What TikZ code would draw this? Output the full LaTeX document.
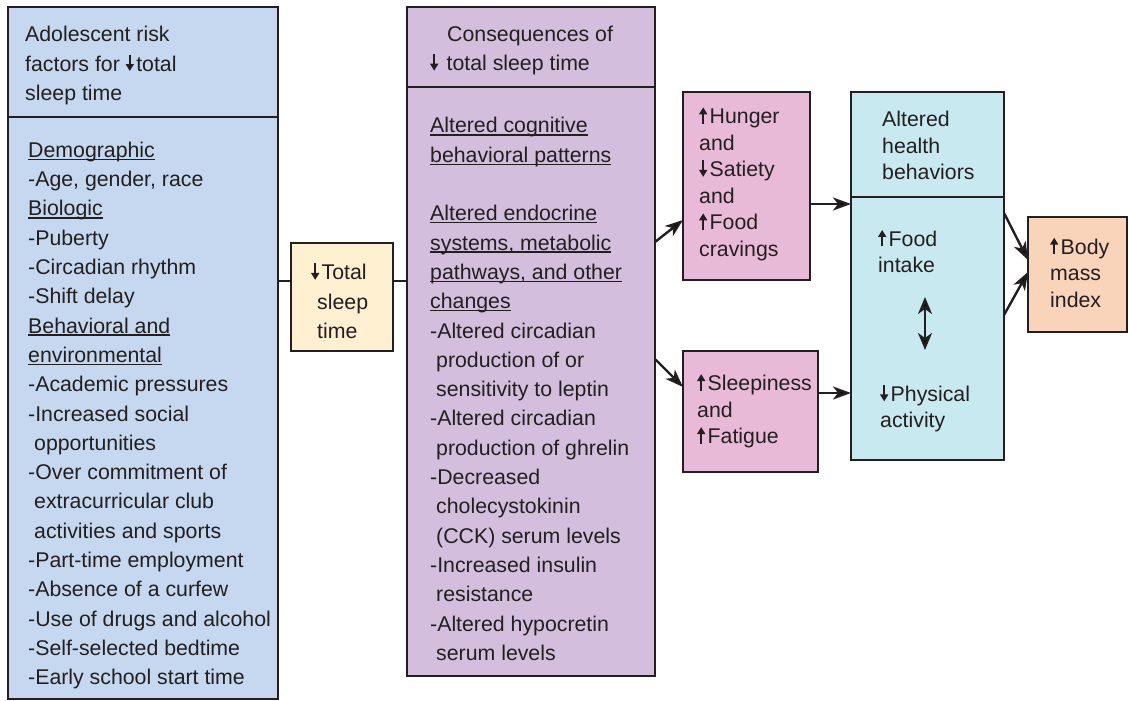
\documentclass[tikz,border=0pt]{standalone}
\usepackage{fontspec}
\setmainfont{Liberation Sans}
\usetikzlibrary{arrows.meta, calc}
\definecolor{myblue}{RGB}{198,216,239}
\definecolor{mycream}{RGB}{255,240,209}
\definecolor{mypurple}{RGB}{211,190,221}
\definecolor{mypink}{RGB}{233,186,215}
\definecolor{mycyan}{RGB}{201,233,241}
\definecolor{mypeach}{RGB}{250,211,187}
\definecolor{myink}{RGB}{35,31,32}
% small arrows set in the text
\newcommand{\arrup}{\tikz[baseline=0pt]\draw[myink, line width=2.3pt, -{Triangle[length=7pt, width=8pt]}] (0pt,0pt) -- (0pt,16.5pt);\hspace{2.5pt}}
\newcommand{\arrdn}{\tikz[baseline=0pt]\draw[myink, line width=2.3pt, -{Triangle[length=7pt, width=8pt]}] (0pt,16.5pt) -- (0pt,0pt);\hspace{2.5pt}}
\newcommand{\ind}{\hspace*{6pt}}
\newsavebox{\ulbox}
\newcommand{\undl}[1]{\sbox{\ulbox}{#1}\rlap{\rule[-2.6pt]{\wd\ulbox}{1.3pt}}\usebox{\ulbox}}
\tikzset{
  box/.style={draw=myink, line width=2.4pt, outer sep=0pt, anchor=north west},
  txt/.style={anchor=west, align=left, inner sep=0pt, text=myink, font=\fontsize{21.3}{29.3}\selectfont},
  txts/.style={txt, font=\fontsize{21.3}{26.5}\selectfont},
  link/.style={line width=2.4pt, draw=myink},
  arr/.style={link, -{Stealth[length=18pt, width=13pt, inset=5pt]}},
  dbl/.style={link, {Stealth[length=17pt, width=14pt, inset=5pt]}-{Stealth[length=17pt, width=14pt, inset=5pt]}},
}

\begin{document}
\begin{tikzpicture}[x=1pt, y=-1pt]
\useasboundingbox (0,0) rectangle (1128,701);

% boxes
\node[box, fill=myblue, minimum width=270pt, minimum height=110pt] (risk) at (8,7) {};
\node[box, fill=myblue, minimum width=270pt, minimum height=582pt] (riskb) at (8,117) {};
\node[box, fill=mycream, minimum width=102pt, minimum height=108pt] (total) at (291,243) {};
\node[box, fill=mypurple, minimum width=248pt, minimum height=80pt] (cons) at (407,7) {};
\node[box, fill=mypurple, minimum width=248pt, minimum height=589pt] (consb) at (407,87) {};
\node[box, fill=mypink, minimum width=127pt, minimum height=188pt] (hunger) at (683,92) {};
\node[box, fill=mypink, minimum width=135pt, minimum height=121pt] (sleepy) at (683,351) {};
\node[box, fill=mycyan, minimum width=153pt, minimum height=105pt] (beh) at (851,92) {};
\node[box, fill=mycyan, minimum width=153pt, minimum height=263pt] (behb) at (851,197) {};
\node[box, fill=mypeach, minimum width=99pt, minimum height=115pt] (bmi) at (1028,217) {};

% texts
\node[txt] (riskt) at ($(risk.west)+(17,3.5)$) {Adolescent risk\\ factors for \arrdn total\\ sleep time};
\node[txt] (riskbt) at ($(riskb.west)+(20,7.5)$) {\undl{Demographic}\\ -Age, gender, race\\ \undl{Biologic}\\ -Puberty\\ -Circadian rhythm\\ -Shift delay\\ \undl{Behavioral and}\\ \undl{environmental}\\ -Academic pressures\\ -Increased social\\ \ind opportunities\\ -Over commitment of\\ \ind extracurricular club\\ \ind activities and sports\\ -Part-time employment\\ -Absence of a curfew\\ -Use of drugs and alcohol\\ -Self-selected bedtime\\ -Early school start time};
\node[txt] (totalt) at ($(total.west)+(20,3.5)$) {\arrdn Total\\ \ind sleep\\ \ind time};
\node[txt] (const) at ($(cons.west)+(23,3.5)$) {\hspace*{17pt}Consequences of\\ \arrdn\ total sleep time};
\node[txt] (consbt) at ($(consb.west)+(23,7.5)$) {\undl{Altered cognitive}\\ \undl{behavioral patterns}\\[29.3pt] \undl{Altered endocrine}\\ \undl{systems, metabolic}\\ \undl{pathways, and other}\\ \undl{changes}\\ -Altered circadian\\ \ind production of or\\ \ind sensitivity to leptin\\ -Altered circadian\\ \ind production of ghrelin\\ -Decreased\\ \ind cholecystokinin\\ \ind (CCK) serum levels\\ -Increased insulin\\ \ind resistance\\ -Altered hypocretin\\ \ind serum levels};
\node[txts] (hungert) at ($(hunger.west)+(16,-2.5)$) {\arrup Hunger\\ and\\ \arrdn Satiety\\ and\\ \arrup Food\\ cravings};
\node[txts] (sleepyt) at ($(sleepy.west)+(14,-1)$) {\arrup Sleepiness\\ and\\ \arrup Fatigue};
\node[txts] (beht) at ($(beh.west)+(31,1)$) {Altered\\ health\\ behaviors};
\node[txts] (food) at ($(behb.north west)+(27,54)$) {\arrup Food\\ intake};
\node[txts] (phys) at ($(behb.north west)+(29,211)$) {\arrdn Physical\\ activity};
\node[txts] (bmit) at ($(bmi.west)+(22,-2.5)$) {\arrup Body\\ mass\\ index};

% connectors
\coordinate (tin) at ($(total.west)+(0,-16)$);
\coordinate (tout) at ($(total.east)+(0,-16)$);
\draw[link] (riskb.east |- tin) -- (tin);
\draw[link] (tout) -- (tout -| consb.west);

\draw[arr] ($(consb.north east)+(0,155)$) -- ($(hunger.north west)+(0,128)$);
\draw[arr] ($(consb.north east)+(0,272)$) -- ($(sleepy.north west)+(0,36)$);
\draw[arr] ($(hunger.north east)+(0,112)$) -- ($(behb.north west)+(0,7)$);
\draw[arr] ($(sleepy.north east)+(0,42)$) -- ($(behb.north west)+(0,196)$);
\draw[arr] ($(behb.north east)+(0,16)$) -- ($(bmi.north west)+(0,43)$);
\draw[arr] ($(behb.north east)+(0,118)$) -- ($(bmi.north west)+(0,55)$);
\draw[dbl] ($(behb.north west)+(74,100)$) -- ($(behb.north west)+(74,153)$);
\end{tikzpicture}
\end{document}
